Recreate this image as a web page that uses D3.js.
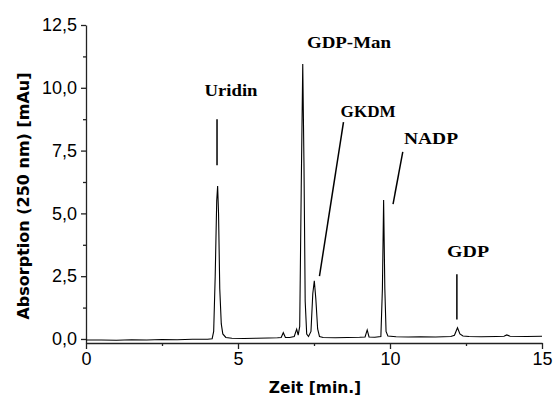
<!DOCTYPE html>
<html><head><meta charset="utf-8">
<script src="https://cdn.jsdelivr.net/npm/d3@7"></script>
<style>html,body{margin:0;padding:0;background:#fff;}</style>
</head><body>
<svg id="c" width="555" height="396"></svg>
<script>
// Chromatogram trace: [time (min), absorption (mAu)]
const trace = [
 [0,-0.04],[0.5,-0.04],[1,-0.05],[1.5,-0.03],[2,-0.04],[2.5,-0.02],[3,-0.03],[3.5,-0.01],[4.0,-0.01],[4.15,0.01],
 [4.2,0.3],[4.25,2.5],[4.3,5.5],[4.33,6.09],[4.36,5.0],[4.4,2.0],[4.45,0.6],[4.5,0.2],[4.6,0.06],[4.8,0.03],
 [5.2,0.02],[5.6,0.03],[6.0,0.04],[6.3,0.05],[6.42,0.06],[6.49,0.25],[6.56,0.06],[6.7,0.06],[6.85,0.1],[6.93,0.39],[6.98,0.15],
 [7.03,0.5],[7.08,6.0],[7.13,10.95],[7.17,7.0],[7.21,1.5],[7.26,0.2],[7.32,0.1],
 [7.4,0.3],[7.46,1.8],[7.51,2.32],[7.56,1.6],[7.62,0.4],[7.68,0.1],[7.8,0.06],[8.2,0.05],[8.6,0.06],[9.0,0.07],
 [9.18,0.08],[9.25,0.36],[9.31,0.08],[9.5,0.07],[9.7,0.1],
 [9.75,2.0],[9.79,5.53],[9.83,2.0],[9.87,0.3],[9.93,0.12],[10.2,0.09],[10.6,0.08],[11,0.09],[11.5,0.08],[12.0,0.1],
 [12.12,0.15],[12.22,0.45],[12.3,0.2],[12.4,0.12],[12.6,0.1],[13,0.09],[13.5,0.1],[13.75,0.11],[13.84,0.16],[13.95,0.11],[14.5,0.1],[15,0.11]
];
const xTicks = [0,5,10,15];
const xMinor = [2.5,7.5,12.5];
const yTicks = [0,2.5,5,7.5,10,12.5];
const yMinor = [1.25,3.75,6.25,8.75,11.25];
// peak annotations: name, label position (time, value), pointer line (t1,v1)->(t2,v2)
const peakNames  = ["Uridin","GDP-Man","GKDM","NADP","GDP"];
const labelT     = [4.77, 8.65, 9.28, 11.35, 12.57];
const labelV     = [9.68, 11.57, 8.85, 7.75, 3.25];
const labelW     = [53, 84, 55, 54, 42];
const lineT1     = [4.31, null, 8.47, 10.42, 12.2];
const lineV1     = [8.75, null, 8.63, 7.45, 2.58];
const lineT2     = [4.31, null, 7.68, 10.1, 12.2];
const lineV2     = [6.92, null, 2.5, 5.37, 0.78];

const svg = d3.select("#c");
const x = d3.scaleLinear().domain([0,15]).range([86,542]);
const y = d3.scaleLinear().domain([-0.16,12.5]).range([343,25]);
const fmt = d => d3.format(".1f")(d).replace(".",",");

// minor ticks
svg.append("g").attr("transform","translate(0,343)")
  .call(d3.axisBottom(x).tickValues(xMinor).tickSize(3).tickFormat("").tickSizeOuter(0))
  .call(g=>g.select(".domain").remove())
  .selectAll("line").attr("stroke","#222").attr("stroke-width",1.3);
svg.append("g").attr("transform","translate(86,0)")
  .call(d3.axisLeft(y).tickValues(yMinor).tickSize(3).tickFormat("").tickSizeOuter(0))
  .call(g=>g.select(".domain").remove())
  .selectAll("line").attr("stroke","#222").attr("stroke-width",1.3);

const gx = svg.append("g").attr("transform","translate(0,343)")
  .call(d3.axisBottom(x).tickValues(xTicks).tickSize(6).tickSizeOuter(0).tickPadding(3).tickFormat(d3.format("d")));
const gy = svg.append("g").attr("transform","translate(86,0)")
  .call(d3.axisLeft(y).tickValues(yTicks).tickSize(5).tickSizeOuter(0).tickPadding(4).tickFormat(fmt));
[gx,gy].forEach(g=>{
  g.select(".domain").attr("stroke","#222").attr("stroke-width",1.3);
  g.selectAll(".tick line").attr("stroke","#222").attr("stroke-width",1.3);
  g.selectAll(".tick text").attr("fill","#000").style("font-family","'Liberation Sans',Arial,sans-serif").style("font-size","18px");
});

// trace
svg.append("path").datum(trace)
  .attr("fill","none").attr("stroke","#000").attr("stroke-width",1.1)
  .attr("d", d3.line().x(d=>x(d[0])).y(d=>y(d[1])));

// annotations
peakNames.forEach((n,i)=>{
  svg.append("text").attr("x",x(labelT[i])).attr("y",y(labelV[i]))
    .attr("text-anchor","middle")
    .attr("textLength",labelW[i]).attr("lengthAdjust","spacingAndGlyphs")
    .style("font-family","'Liberation Serif','Times New Roman',serif").style("font-weight","bold").style("font-size","17.5px")
    .text(n);
  if (lineT1[i]!==null) {
    svg.append("line").attr("x1",x(lineT1[i])).attr("y1",y(lineV1[i]))
      .attr("x2",x(lineT2[i])).attr("y2",y(lineV2[i]))
      .attr("stroke","#000").attr("stroke-width",1.5);
  }
});

// axis titles
svg.append("text").attr("x",315).attr("y",393).attr("text-anchor","middle")
  .style("font-family","'DejaVu Sans',sans-serif").style("font-weight","bold").style("font-size","15.5px")
  .text("Zeit [min.]");
svg.append("text").attr("transform","translate(29,196) rotate(-90)").attr("text-anchor","middle")
  .style("font-family","'DejaVu Sans',sans-serif").style("font-weight","bold").style("font-size","16px")
  .text("Absorption (250 nm) [mAu]");
</script>
</body></html>
